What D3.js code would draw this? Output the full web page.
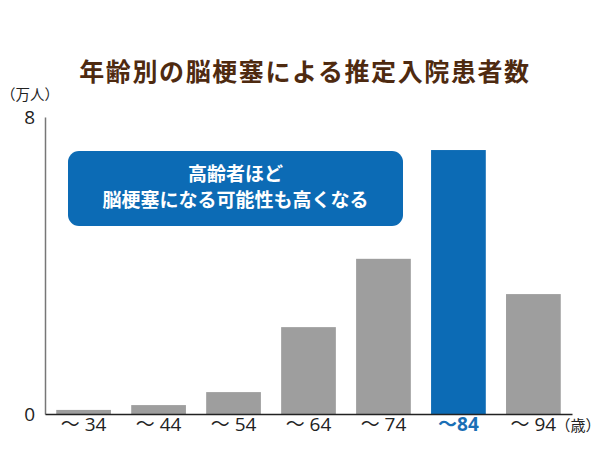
<!DOCTYPE html>
<html>
<head>
<meta charset="utf-8">
<script src="https://cdn.jsdelivr.net/npm/d3@7"></script>
<style>
  body { margin: 0; background: #fff; }
  svg text { font-family: "Noto Sans CJK JP", "Noto Sans", sans-serif; }
  svg .num text { font-family: "Open Sans", "Noto Sans CJK JP", sans-serif; }
</style>
</head>
<body>
<div class="chart"></div>
<script>
// data
var ages = ['34', '44', '54', '64', '74', '84', '94']
var patients = [0.11, 0.24, 0.59, 2.34, 4.18, 7.11, 3.23]
var highlight = '84'
var yTicks = [0, 8]
var title = '年齢別の脳梗塞による推定入院患者数'
var note = ['高齢者ほど', '脳梗塞になる可能性も高くなる']

var W = 600, H = 450
var margin = {top: 117, right: 28, bottom: 36, left: 45},
    width = W - margin.left - margin.right,
    height = H - margin.top - margin.bottom

var svg = d3.select('.chart').append('svg')
    .attr('width', W)
    .attr('height', H)

svg.append('text')
  .attr('x', 305)
  .attr('y', 81)
  .attr('text-anchor', 'middle')
  .attr('fill', '#4e2a10')
  .attr('font-size', 25)
  .attr('font-weight', 'bold')
  .attr('letter-spacing', 1.6)
  .text(title)

var g = svg.append('g')
    .attr('transform', 'translate(' + margin.left + ',' + margin.top + ')')

var x = d3.scaleBand()
    .domain(ages)
    .range([0, width])
    .paddingInner(0.27)
    .paddingOuter(0.15)

var y = d3.scaleLinear()
    .domain([0, 8])
    .range([height, 0])

// bars
g.selectAll('.bar')
  .data(ages)
  .enter().append('rect')
  .attr('class', 'bar')
  .attr('x', d => x(d))
  .attr('width', x.bandwidth())
  .attr('y', (d, i) => y(patients[i]))
  .attr('height', (d, i) => height - y(patients[i]))
  .attr('fill', d => d === highlight ? '#0c6bb5' : '#9e9e9e')

// axes
var yAxis = g.append('g')
  .attr('class', 'num')
  .call(d3.axisLeft(y).tickValues(yTicks).tickSize(0).tickPadding(10))
yAxis.attr('font-family', null)
yAxis.select('.domain').attr('stroke', '#777').attr('stroke-width', 1.5)
yAxis.selectAll('text')
  .attr('font-size', 19)
  .attr('fill', '#222')
  .attr('dy', '0.36em')

var xAxis = g.append('g')
  .attr('class', 'num')
  .attr('transform', 'translate(0,' + height + ')')
  .call(d3.axisBottom(x).tickSize(0).tickPadding(3).tickFormat(d => '～ ' + d))
xAxis.attr('font-family', null)
xAxis.select('.domain').attr('stroke', '#222').attr('stroke-width', 1.3)
xAxis.selectAll('text')
  .attr('font-size', 19)
  .attr('fill', '#222')
xAxis.selectAll('text').filter(d => d === highlight)
  .text(d => '～' + d)
  .attr('fill', '#1a6fb5')
  .attr('font-weight', 'bold')

// units
svg.append('text')
  .attr('x', 30)
  .attr('y', 100)
  .attr('text-anchor', 'middle')
  .attr('font-size', 14.5)
  .attr('fill', '#222')
  .text('（万人）')

svg.append('text')
  .attr('x', 578)
  .attr('y', 431)
  .attr('text-anchor', 'middle')
  .attr('font-size', 15)
  .attr('fill', '#222')
  .text('（歳）')

// callout
var box = svg.append('g').attr('transform', 'translate(68,151)')
box.append('rect')
  .attr('width', 335)
  .attr('height', 75)
  .attr('rx', 11)
  .attr('fill', '#0c6bb5')
box.selectAll('text')
  .data(note)
  .enter().append('text')
  .attr('x', 167.5)
  .attr('y', (d, i) => 30 + i * 26)
  .attr('text-anchor', 'middle')
  .attr('fill', '#fff')
  .attr('font-size', 19)
  .attr('font-weight', 'bold')
  .text(d => d)
</script>
</body>
</html>
